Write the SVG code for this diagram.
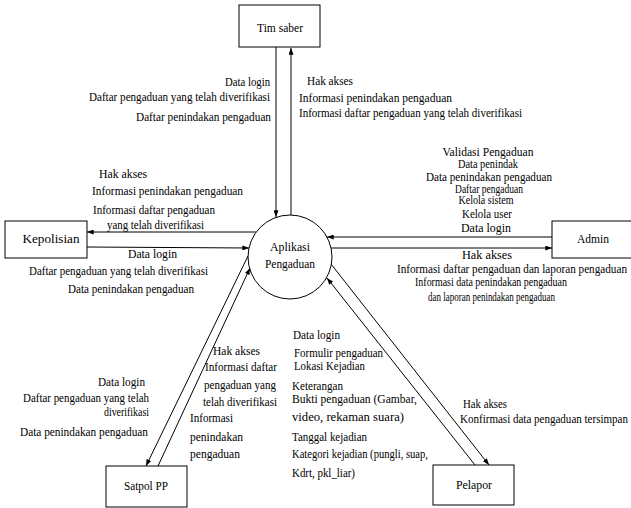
<svg xmlns="http://www.w3.org/2000/svg" width="631" height="508" viewBox="0 0 631 508">
<defs>
<marker id="arr" viewBox="0 0 8 6" refX="8" refY="3" markerWidth="7" markerHeight="5" markerUnits="userSpaceOnUse" orient="auto">
<path d="M0,0 L8,3 L0,6 Z" fill="#000"/>
</marker>
<style>
text{font-family:'Liberation Serif',serif;font-size:12px;fill:#000;}
.m{text-anchor:middle;}
.e{text-anchor:end;}
.box{fill:#fff;stroke:#000;stroke-width:1;}
.ln{fill:none;stroke:#000;stroke-width:1;marker-end:url(#arr);}
</style>
</defs>
<rect x="0" y="0" width="631" height="508" fill="#fff"/>
<g id="connectors">
<line class="ln" x1="276" y1="47" x2="276" y2="217"/>
<line class="ln" x1="291" y1="215" x2="291" y2="48"/>
<line class="ln" x1="256" y1="232" x2="87" y2="232"/>
<line class="ln" x1="87" y1="247" x2="249" y2="248"/>
<line class="ln" x1="552" y1="237" x2="327" y2="237"/>
<line class="ln" x1="331" y1="248" x2="552" y2="248"/>
<line class="ln" x1="248" y1="256" x2="146" y2="466"/>
<line class="ln" x1="158" y1="466" x2="250" y2="268"/>
<line class="ln" x1="331" y1="264" x2="489" y2="465"/>
<line class="ln" x1="475" y1="465" x2="327" y2="278"/>
</g>
<g id="node-timsaber">
<rect class="box" x="239" y="5" width="81" height="42"/>
<text class="m" x="280" y="32" textLength="46" lengthAdjust="spacingAndGlyphs">Tim saber</text>
</g>
<g id="node-kepolisian">
<rect class="box" x="5" y="221" width="82" height="37"/>
<text class="m" x="51" y="243" textLength="57" lengthAdjust="spacingAndGlyphs">Kepolisian</text>
</g>
<g id="node-admin">
<rect class="box" x="552" y="221" width="82" height="37"/>
<text class="m" x="593" y="243" textLength="32" lengthAdjust="spacingAndGlyphs">Admin</text>
</g>
<g id="node-satpol">
<rect class="box" x="106" y="466" width="81" height="41"/>
<text class="m" x="146" y="490" textLength="44" lengthAdjust="spacingAndGlyphs">Satpol PP</text>
</g>
<g id="node-pelapor">
<rect class="box" x="433" y="465" width="81" height="40"/>
<text class="m" x="474" y="489" textLength="36" lengthAdjust="spacingAndGlyphs">Pelapor</text>
</g>
<g id="node-aplikasi">
<circle cx="290" cy="257" r="42" fill="#fff" stroke="#000" stroke-width="1"/>
<text class="m" x="290" y="251" textLength="40" lengthAdjust="spacingAndGlyphs">Aplikasi</text>
<text class="m" x="290" y="268" textLength="50" lengthAdjust="spacingAndGlyphs">Pengaduan</text>
</g>
<g id="labels">
<text class="e" x="270" y="86" textLength="45" lengthAdjust="spacingAndGlyphs">Data login</text>
<text class="e" x="270" y="101" textLength="181" lengthAdjust="spacingAndGlyphs">Daftar pengaduan yang telah diverifikasi</text>
<text class="e" x="271" y="121" textLength="135" lengthAdjust="spacingAndGlyphs">Daftar penindakan pengaduan</text>
<text x="307" y="85" textLength="46" lengthAdjust="spacingAndGlyphs">Hak akses</text>
<text x="299" y="102" textLength="153" lengthAdjust="spacingAndGlyphs">Informasi penindakan pengaduan</text>
<text x="299" y="117" textLength="223" lengthAdjust="spacingAndGlyphs">Informasi daftar pengaduan yang telah diverifikasi</text>
<text x="99" y="178" textLength="48" lengthAdjust="spacingAndGlyphs">Hak akses</text>
<text x="92" y="195" textLength="151" lengthAdjust="spacingAndGlyphs">Informasi penindakan pengaduan</text>
<text x="93" y="214" textLength="122" lengthAdjust="spacingAndGlyphs">Informasi daftar pengaduan</text>
<text x="107" y="229" textLength="97" lengthAdjust="spacingAndGlyphs">yang telah diverifikasi</text>
<text x="128" y="258" textLength="49" lengthAdjust="spacingAndGlyphs">Data login</text>
<text x="29" y="275" textLength="179" lengthAdjust="spacingAndGlyphs">Daftar pengaduan yang telah diverifikasi</text>
<text x="68" y="293" textLength="126" lengthAdjust="spacingAndGlyphs">Data penindakan pengaduan</text>
<text class="m" x="488" y="156" textLength="91" lengthAdjust="spacingAndGlyphs">Validasi Pengaduan</text>
<text class="m" x="488" y="168" textLength="60" lengthAdjust="spacingAndGlyphs">Data penindak</text>
<text class="m" x="489" y="181" textLength="126" lengthAdjust="spacingAndGlyphs">Data penindakan pengaduan</text>
<text class="m" x="489" y="193" textLength="68" lengthAdjust="spacingAndGlyphs">Daftar pengaduan</text>
<text class="m" x="486" y="204" textLength="55" lengthAdjust="spacingAndGlyphs">Kelola sistem</text>
<text class="m" x="487" y="218" textLength="50" lengthAdjust="spacingAndGlyphs">Kelola user</text>
<text class="m" x="486" y="232" textLength="50" lengthAdjust="spacingAndGlyphs">Data login</text>
<text class="m" x="487" y="259" textLength="50" lengthAdjust="spacingAndGlyphs">Hak akses</text>
<text x="397" y="273" textLength="230" lengthAdjust="spacingAndGlyphs">Informasi daftar pengaduan dan laporan pengaduan</text>
<text x="415" y="286" textLength="152" lengthAdjust="spacingAndGlyphs">Informasi data penindakan pengaduan</text>
<text x="428" y="301" textLength="127" lengthAdjust="spacingAndGlyphs">dan laporan penindakan pengaduan</text>
<text class="e" x="145" y="386" textLength="47" lengthAdjust="spacingAndGlyphs">Data login</text>
<text class="e" x="149" y="402" textLength="126" lengthAdjust="spacingAndGlyphs">Daftar pengaduan yang telah</text>
<text class="e" x="149" y="416" textLength="45" lengthAdjust="spacingAndGlyphs">diverifikasi</text>
<text class="e" x="148" y="436" textLength="128" lengthAdjust="spacingAndGlyphs">Data penindakan pengaduan</text>
<text x="213" y="355" textLength="47" lengthAdjust="spacingAndGlyphs">Hak akses</text>
<text x="205" y="371" textLength="72" lengthAdjust="spacingAndGlyphs">Informasi daftar</text>
<text x="204" y="389" textLength="72" lengthAdjust="spacingAndGlyphs">pengaduan yang</text>
<text x="203" y="406" textLength="74" lengthAdjust="spacingAndGlyphs">telah diverifikasi</text>
<text x="190" y="422" textLength="43" lengthAdjust="spacingAndGlyphs">Informasi</text>
<text x="190" y="441" textLength="53" lengthAdjust="spacingAndGlyphs">penindakan</text>
<text x="190" y="458" textLength="50" lengthAdjust="spacingAndGlyphs">pengaduan</text>
<text x="293" y="339" textLength="47" lengthAdjust="spacingAndGlyphs">Data login</text>
<text x="294" y="357" textLength="89" lengthAdjust="spacingAndGlyphs">Formulir pengaduan</text>
<text x="294" y="370" textLength="71" lengthAdjust="spacingAndGlyphs">Lokasi Kejadian</text>
<text x="292" y="390" textLength="51" lengthAdjust="spacingAndGlyphs">Keterangan</text>
<text x="292" y="403" textLength="125" lengthAdjust="spacingAndGlyphs">Bukti pengaduan (Gambar,</text>
<text x="292" y="421" textLength="112" lengthAdjust="spacingAndGlyphs">video, rekaman suara)</text>
<text x="292" y="441" textLength="75" lengthAdjust="spacingAndGlyphs">Tanggal kejadian</text>
<text x="292" y="458" textLength="136" lengthAdjust="spacingAndGlyphs">Kategori kejadian (pungli, suap,</text>
<text x="292" y="477" textLength="63" lengthAdjust="spacingAndGlyphs">Kdrt, pkl_liar)</text>
<text x="463" y="408" textLength="44" lengthAdjust="spacingAndGlyphs">Hak akses</text>
<text x="460" y="423" textLength="168" lengthAdjust="spacingAndGlyphs">Konfirmasi data pengaduan tersimpan</text>
</g>
</svg>
